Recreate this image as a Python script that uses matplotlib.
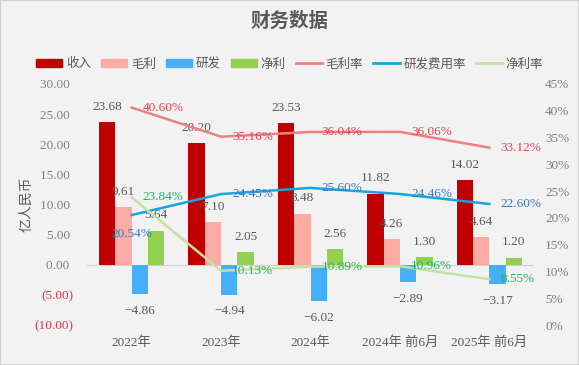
import matplotlib.pyplot as plt
import numpy as np
from matplotlib.patches import Patch, Rectangle
from matplotlib.lines import Line2D

plt.rcParams['font.family'] = ['Liberation Serif', 'Noto Sans CJK SC']
plt.rcParams['axes.unicode_minus'] = True

# data (亿人民币 / %)
categories = ['2022年', '2023年', '2024年', '2024年 前6月', '2025年 前6月']
revenue = [23.68, 20.20, 23.53, 11.82, 14.02]
gross_profit = [9.61, 7.10, 8.48, 4.26, 4.64]
rnd = [-4.86, -4.94, -6.02, -2.89, -3.17]
net_profit = [5.64, 2.05, 2.56, 1.30, 1.20]
gross_margin = [40.60, 35.16, 36.04, 36.06, 33.12]
rnd_rate = [20.54, 24.45, 25.60, 24.46, 22.60]
net_margin = [23.84, 10.13, 10.89, 10.96, 8.55]

bg = '#f2f2f2'
txt = '#595959'
cjk = ['Noto Sans CJK SC', 'DejaVu Sans']

fig = plt.figure(figsize=(5.79, 3.65), dpi=100, facecolor=bg)
ax = fig.add_axes([87 / 579, 40 / 365, 447 / 579, 241 / 365])
ax.set_facecolor(bg)

x = np.arange(len(categories))
w = 0.183
bar_series = [
    (revenue, '#c00000', '收入'),
    (gross_profit, '#f9aba4', '毛利'),
    (rnd, '#45b0fa', '研发'),
    (net_profit, '#92d050', '净利'),
]
for k, (vals, col, name) in enumerate(bar_series):
    xs = x + (k - 1.5) * w
    ax.bar(xs, vals, width=w, color=col, zorder=2)
    for xi, v in zip(xs, vals):
        s = f'{v:.2f}'.replace('-', '\u2212')
        off = 11 if v >= 0 else -12
        ax.annotate(s, (xi, v), xytext=(0, off), textcoords='offset points',
                    ha='center', va='center', fontsize=9.5, color=txt, zorder=5)

ax.set_xlim(-0.5, len(categories) - 0.5)
ax.set_ylim(-10, 30)
yt = list(range(-10, 31, 5))
ax.set_yticks(yt, labels=[f'{v:.2f} ' if v >= 0 else f'({-v:.2f})' for v in yt])
for lbl, v in zip(ax.get_yticklabels(), yt):
    lbl.set_color('#7f7f7f' if v >= 0 else '#e0364c')
    lbl.set_fontsize(9.5)
ax.set_xticks(x, labels=categories)
for lbl in ax.get_xticklabels():
    lbl.set_fontsize(9.5)
    lbl.set_color(txt)
ax.tick_params(axis='both', length=0)
ax.tick_params(axis='y', pad=10)
ax.tick_params(axis='x', pad=8)
for sp in ax.spines.values():
    sp.set_visible(False)
ax.axhline(0, color='#d0d0d0', lw=0.8, zorder=1)
ax.set_ylabel('亿人民币', fontsize=10, color=txt, family=cjk)
ax.yaxis.set_label_coords(-0.119, 0.5)

# rates on the right axis
ax2 = ax.twinx()
ax2.set_ylim(0, 45)
pt = list(range(0, 46, 5))
ax2.set_yticks(pt, labels=[f'{v}%' for v in pt])
for lbl in ax2.get_yticklabels():
    lbl.set_color('#7f7f7f')
    lbl.set_fontsize(9.5)
ax2.tick_params(axis='y', length=0, pad=8)
for sp in ax2.spines.values():
    sp.set_visible(False)

line_series = [
    (gross_margin, '#f08080', '#e8404f', '毛利率'),
    (rnd_rate, '#12a7e2', '#3a78c0', '研发费用率'),
    (net_margin, '#c5e0a5', '#22b565', '净利率'),
]
for vals, col, tcol, name in line_series:
    ax2.plot(x, vals, color=col, lw=1.8, zorder=3)
    for i, (xi, v) in enumerate(zip(x, vals)):
        if name == '研发费用率' and i == 0:
            ax2.annotate(f'{v:.2f}%', (xi, v), xytext=(0, -14), textcoords='offset points',
                         ha='center', va='center', fontsize=9.5, color=tcol)
        else:
            ax2.annotate(f'{v:.2f}%', (xi, v), xytext=(8, 0), textcoords='offset points',
                         ha='left', va='center', fontsize=9.5, color=tcol)

# title and legend
fig.text(0.5, 1 - 21 / 365, '财务数据', ha='center', va='center', fontsize=14,
         fontweight='bold', color=txt, family=cjk)
handles = [Patch(color=c) for _, c, _ in bar_series] + \
          [Line2D([], [], color=c, lw=2) for _, c, _, _ in line_series]
names = [n for _, _, n in bar_series] + [n for _, _, _, n in line_series]
fig.legend(handles, names, loc='center', bbox_to_anchor=(0.5, 1 - 64 / 365), ncol=7,
           frameon=False, handlelength=2.1, handleheight=0.6, handletextpad=0.3,
           columnspacing=0.8, prop={'family': cjk, 'size': 9}, labelcolor=txt)

fig.patches.append(Rectangle((0, 0), 1, 1, transform=fig.transFigure, fill=False,
                             edgecolor='#d0d0d0', lw=1.5))

fig.savefig('out.png', dpi=100, facecolor=bg)
